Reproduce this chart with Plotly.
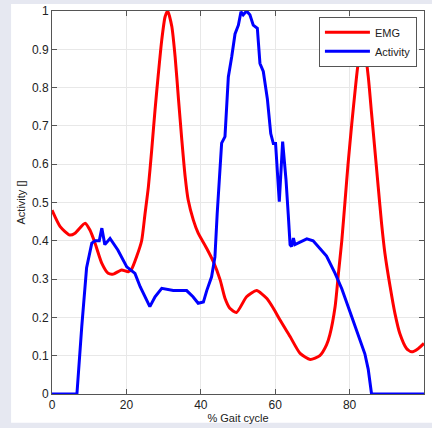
import plotly.graph_objects as go

# EMG curve (red)
emg_x = [0, 2.2, 4.8, 6.2, 8.9, 10.2, 11.6, 13.4, 15.1, 16.5, 18.7, 20.5, 21.4, 22.8, 24.1, 25.0,
         25.9, 26.8, 27.7, 28.6, 29.5, 30.4, 31.1, 32.2, 33.1, 34.0, 34.9, 35.8, 36.6, 38.0, 39.3,
         41.6, 43.4, 45.2, 46.5, 47.8, 49.6, 52.3, 55.0, 57.7, 59.5, 61.3, 64.0, 66.7, 69.4, 72.0,
         73.8, 74.7, 76.1, 77.0, 77.9, 78.8, 79.6, 80.6, 81.5, 82.3, 83.2, 84.1, 85.0, 85.9, 86.8,
         87.7, 88.6, 89.5, 90.9, 92.2, 93.5, 95.3, 96.7, 98.5, 100]
emg_y = [0.48, 0.437, 0.415, 0.42, 0.446, 0.428, 0.393, 0.341, 0.315, 0.313, 0.324, 0.319, 0.326, 0.36, 0.40, 0.47,
         0.54, 0.637, 0.742, 0.837, 0.924, 0.985, 1.0, 0.96, 0.88, 0.77, 0.663, 0.567, 0.507, 0.454, 0.42,
         0.38, 0.345, 0.298, 0.25, 0.224, 0.213, 0.254, 0.27, 0.25, 0.224, 0.193, 0.15, 0.106, 0.09, 0.10,
         0.128, 0.155, 0.228, 0.315, 0.40, 0.507, 0.602, 0.707, 0.794, 0.863, 0.898, 0.89, 0.83, 0.733, 0.637,
         0.54, 0.445, 0.367, 0.28, 0.21, 0.158, 0.119, 0.11, 0.119, 0.132]

# Activity curve (blue)
act_x = [0, 6.7, 8.0, 9.3, 10.7, 11.6, 12.7, 13.4, 14.2, 15.6, 17.7, 20.1, 22.3, 23.7, 26.3, 27.7,
         29.5, 32.6, 34.4, 36.2, 37.9, 39.3, 40.7, 41.6, 42.9, 43.8, 44.4, 44.9, 45.6, 46.5, 47.4,
         48.3, 49.2, 50.1, 50.8, 51.4, 52.3, 53.2, 54.1, 55.2, 55.9, 56.8, 57.9, 58.8, 59.5, 60.1,
         60.8, 61.1, 62.0, 62.9, 63.5, 64.0, 64.4, 64.9, 65.3, 68.5, 70.2, 72.0, 73.8, 76.1, 77.9,
         80.1, 82.3, 84.1, 85.0, 85.9, 100]
act_y = [0, 0, 0.176, 0.33, 0.394, 0.40, 0.40, 0.433, 0.39, 0.406, 0.376, 0.332, 0.315, 0.28, 0.228, 0.254,
         0.276, 0.27, 0.27, 0.27, 0.254, 0.237, 0.24, 0.27, 0.306, 0.358, 0.47, 0.56, 0.655, 0.672, 0.828,
         0.88, 0.94, 0.963, 0.998, 0.99, 1.0, 0.99, 0.963, 0.955, 0.863, 0.842, 0.77, 0.68, 0.654, 0.654,
         0.533, 0.502, 0.659, 0.56, 0.47, 0.39, 0.385, 0.407, 0.39, 0.405, 0.40, 0.38, 0.36, 0.315, 0.275,
         0.215, 0.155, 0.105, 0.065, 0, 0]

x_ticks = [0, 20, 40, 60, 80, 100]
y_ticks = [0, 0.1, 0.2, 0.3, 0.4, 0.5, 0.6, 0.7, 0.8, 0.9, 1]
y_labels = ["0", "0.1", "0.2", "0.3", "0.4", "0.5", "0.6", "0.7", "0.8", "0.9", "1"]

fig = go.Figure()
fig.add_trace(go.Scatter(x=emg_x, y=emg_y, name="EMG", mode="lines",
                         line=dict(color="#ff0000", width=3, shape="spline", smoothing=0.6)))
fig.add_trace(go.Scatter(x=act_x, y=act_y, name="Activity", mode="lines",
                         line=dict(color="#0000ff", width=3)))

# white panel on the lavender page
fig.add_shape(type="rect", xref="paper", yref="paper", x0=-0.11, x1=1.03, y0=-0.075, y1=1.018,
              fillcolor="white", line_width=0, layer="below")

axis_style = dict(showline=True, mirror="allticks", linecolor="#555", linewidth=1,
                  ticks="inside", ticklen=5, tickcolor="#555", showgrid=True, gridcolor="#e8e8e8",
                  zeroline=False, automargin=False, tickfont=dict(size=12, color="#222"))

fig.update_layout(
    width=432, height=428,
    margin=dict(l=52, r=8, t=11, b=34),
    paper_bgcolor="#e6e8f1", plot_bgcolor="white",
    font=dict(family="Liberation Sans, Arial", color="#222"),
    showlegend=True,
    legend=dict(x=0.981, y=0.985, xanchor="right", yanchor="top", bgcolor="white",
                bordercolor="#555", borderwidth=1, font=dict(size=11), itemwidth=45,
                tracegroupgap=0),
)
fig.update_xaxes(range=[0, 100], tickvals=x_ticks, **axis_style,
                 title=dict(text="% Gait cycle", font=dict(size=11), standoff=1))
fig.update_yaxes(range=[0, 1], tickvals=y_ticks, ticktext=y_labels, **axis_style,
                 title=dict(text="Activity []", font=dict(size=11), standoff=4))

# drop the page's default body margin so the figure sits at the window corner
fig.write_html("out.html", config={"displayModeBar": False},
               post_script="document.body.style.margin='0';")
